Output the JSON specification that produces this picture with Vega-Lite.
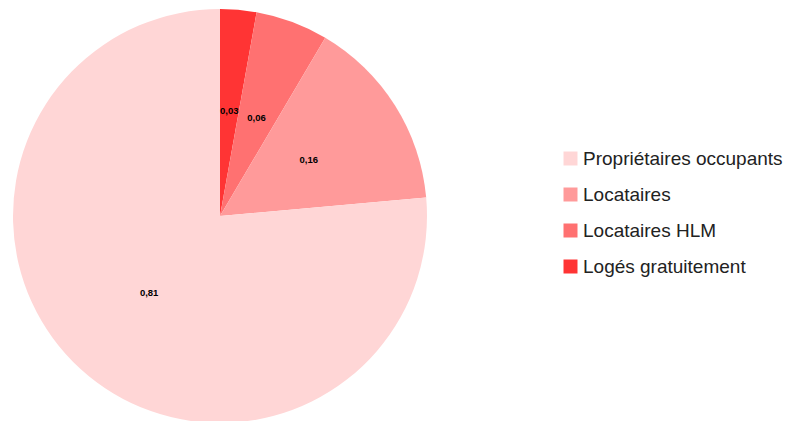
{
  "$schema": "https://vega.github.io/schema/vega-lite/v6.json",
  "width": 440,
  "height": 432,
  "autosize": {"type": "none"},
  "padding": {"left": 0, "top": 0, "right": 365, "bottom": 0},
  "background": "white",
  "config": {
    "view": {"stroke": null},
    "font": "Liberation Sans",
    "locale": {"number": {"decimal": ",", "thousands": " ", "grouping": [3], "currency": ["", " €"]}}
  },
  "data": {
    "values": [
      {"categorie": "Logés gratuitement", "valeur": 0.03, "rang": 1},
      {"categorie": "Locataires HLM", "valeur": 0.06, "rang": 2},
      {"categorie": "Locataires", "valeur": 0.16, "rang": 3},
      {"categorie": "Propriétaires occupants", "valeur": 0.81, "rang": 4}
    ]
  },
  "encoding": {
    "theta": {"field": "valeur", "type": "quantitative", "stack": true},
    "order": {"field": "rang", "type": "quantitative"}
  },
  "layer": [
    {
      "mark": {"type": "arc", "outerRadius": 207},
      "encoding": {
        "color": {
          "field": "categorie",
          "type": "nominal",
          "scale": {
            "domain": ["Propriétaires occupants", "Locataires", "Locataires HLM", "Logés gratuitement"],
            "range": ["#ffd6d6", "#ff9a9a", "#ff7171", "#ff3434"]
          },
          "legend": {
            "title": null,
            "orient": "none",
            "legendX": 561,
            "legendY": 149,
            "padding": 0,
            "symbolType": "square",
            "symbolSize": 196,
            "symbolStrokeWidth": 0,
            "labelFont": "Liberation Sans",
            "labelFontSize": 19,
            "labelColor": "#222222",
            "labelOffset": 3,
            "rowPadding": 16,
            "labelLimit": 400
          }
        }
      }
    },
    {
      "mark": {"type": "text", "radius": 105, "fontSize": 9.5, "fontWeight": "bold", "color": "#000000"},
      "encoding": {
        "text": {"field": "valeur", "type": "quantitative", "format": ".2f"}
      }
    }
  ]
}
